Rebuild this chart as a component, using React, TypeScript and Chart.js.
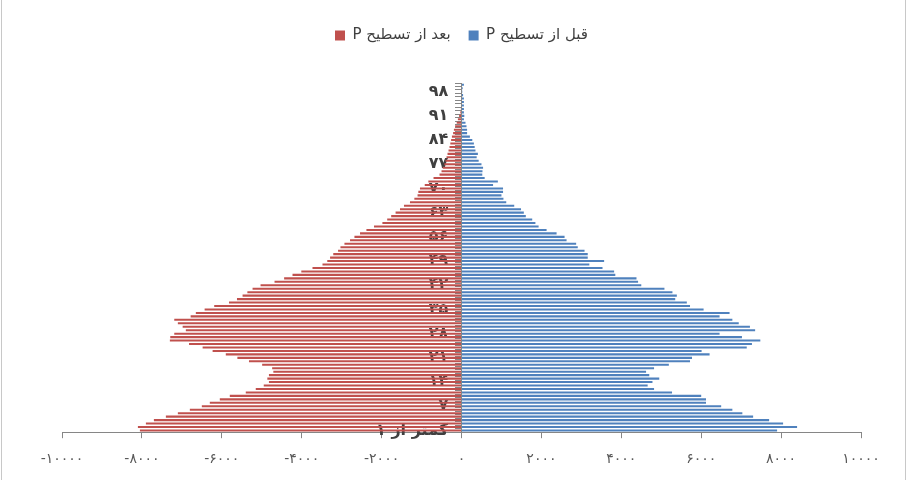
import React, { useEffect, useRef } from "react";
import { Chart, registerables } from "chart.js";

Chart.register(...registerables);

const seriesNames = ["P بعد از تسطیح", "P قبل از تسطیح"];
const seriesColors = ["#C0504D", "#4F81BD"];

const faDigits = "۰۱۲۳۴۵۶۷۸۹";
const toFa = (n: number | string) => String(n).replace(/\d/g, (d) => faDigits[Number(d)]);

const firstCategory = "کمتر از ۱";
const ageNumbers = Array.from({ length: 100 }, (_, k) => k + 1);
const categories = [firstCategory, ...ageNumbers.map((a) => toFa(a))];

const xTickValues = [-10000, -8000, -6000, -4000, -2000, 0, 2000, 4000, 6000, 8000, 10000];

// after smoothing (left, negative)
const afterSmoothing = [
  -8050, -8100, -7900, -7700, -7400, -7100, -6800, -6500, -6300, -6050,
  -5800, -5400, -5150, -4950, -4820, -4860, -4820, -4710, -4740, -4990,
  -5320, -5610, -5900, -6230, -6480, -6820, -7300, -7290, -7190, -6900,
  -6980, -7100, -7190, -6780, -6650, -6430, -6190, -5820, -5620, -5480,
  -5360, -5230, -5030, -4680, -4440, -4230, -4010, -3730, -3480, -3360,
  -3290, -3210, -3090, -3030, -2930, -2790, -2680, -2540, -2380, -2190,
  -1980, -1860, -1760, -1650, -1540, -1440, -1290, -1180, -1100, -1080,
  -1040, -920, -830, -700, -550, -500, -470, -430, -400, -375,
  -350, -325, -300, -280, -260, -240, -210, -190, -160, -120,
  -90, -60, -30, -15, 0, 0, 0, 0, 0, 0,
  0,
];

// before smoothing (right, positive)
const beforeSmoothing = [
  7900, 8400, 8050, 7700, 7300, 7030, 6780, 6500, 6120, 6120,
  6000, 5270, 4820, 4660, 4780, 4950, 4700, 4620, 4820, 5190,
  5720, 5770, 6210, 6010, 7140, 7270, 7480, 7020, 6460, 7350,
  7220, 6940, 6780, 6460, 6710, 6060, 5720, 5640, 5350, 5390,
  5280, 5080, 4500, 4420, 4380, 3850, 3820, 3530, 3200, 3570,
  3160, 3160, 3080, 2910, 2870, 2630, 2580, 2380, 2130, 1930,
  1850, 1770, 1610, 1560, 1490, 1320, 1120, 1050, 1000, 1040,
  1040, 790, 910, 580, 520, 525, 540, 500, 430, 380,
  410, 350, 330, 310, 270, 210, 140, 140, 125, 100,
  60, 70, 60, 60, 60, 60, 60, 40, 20, 30,
  60,
];

const FONT = "'DejaVu Sans', 'Noto Sans', sans-serif";
// gap between the category labels and the centred axis line
const LABEL_GAP = "\u2002\u2006\u2006";

const legendSpacer = {
  id: "legendSpacer",
  beforeLayout(chart: any) {
    const legend = chart.legend;
    if (legend && !legend.__patched) {
      const origFit = legend.fit;
      legend.fit = function () {
        origFit.call(this);
        this.height += 30;
      };
      legend.__patched = true;
    }
  },
};

export default function App() {
  const canvasRef = useRef<HTMLCanvasElement | null>(null);

  useEffect(() => {
    document.body.style.margin = "0";
    const canvas = canvasRef.current;
    if (!canvas) return;
    const chart = new Chart(canvas, {
      type: "bar",
      data: {
        labels: categories,
        datasets: [
          {
            label: seriesNames[0],
            data: afterSmoothing,
            backgroundColor: seriesColors[0],
            borderWidth: 0,
            barPercentage: 0.6,
            categoryPercentage: 1,
          },
          {
            label: seriesNames[1],
            data: beforeSmoothing,
            backgroundColor: seriesColors[1],
            borderWidth: 0,
            barPercentage: 0.6,
            categoryPercentage: 1,
          },
        ],
      },
      options: {
        indexAxis: "y",
        responsive: false,
        animation: false,
        devicePixelRatio: 1,
        layout: { padding: { left: 62, right: 47, top: 10, bottom: -1 } },
        plugins: {
          legend: {
            position: "top",
            align: "center",
            labels: {
              boxWidth: 10,
              boxHeight: 10,
              padding: 18,
              color: "#404040",
              font: { family: FONT, size: 15 },
            },
          },
          tooltip: { enabled: false },
        },
        scales: {
          x: {
            type: "linear",
            min: -10000,
            max: 10000,
            stacked: true,
            afterBuildTicks(scale: any) {
              scale.ticks = xTickValues.map((v) => ({ value: v }));
            },
            ticks: {
              color: "#595959",
              font: { family: FONT, size: 14 },
              padding: 13,
              callback: (v: any) => toFa(v),
            },
            grid: {
              drawOnChartArea: false,
              drawTicks: true,
              tickLength: 6,
              color: "#868686",
            },
            border: { color: "#868686", width: 1 },
          },
          y: {
            type: "category",
            stacked: true,
            reverse: true,
            position: { x: 0 } as any,
            ticks: {
              autoSkip: false,
              color: "#404040",
              font: { family: FONT, size: 16, weight: "bold" },
              padding: 8,
              callback: (_v: any, index: number) =>
                index % 7 === 0 ? categories[index] + LABEL_GAP : "",
            },
            grid: {
              drawOnChartArea: false,
              drawTicks: true,
              tickLength: 6,
              color: "#868686",
              offset: true,
            },
            border: { color: "#868686", width: 1 },
          },
        },
      },
      plugins: [legendSpacer],
    } as any);
    return () => chart.destroy();
  }, []);

  return (
    <div style={{ position: "relative", width: 908, height: 480, background: "#fff" }}>
      <div
        style={{
          position: "absolute",
          left: 1,
          top: 0,
          width: 905,
          height: 480,
          borderLeft: "1px solid #c8c8c8",
          borderRight: "1px solid #c8c8c8",
          boxSizing: "border-box",
        }}
      />
      <canvas
        ref={canvasRef}
        width={908}
        height={480}
        style={{ position: "absolute", left: 0, top: 0, width: 908, height: 480 }}
      />
    </div>
  );
}
